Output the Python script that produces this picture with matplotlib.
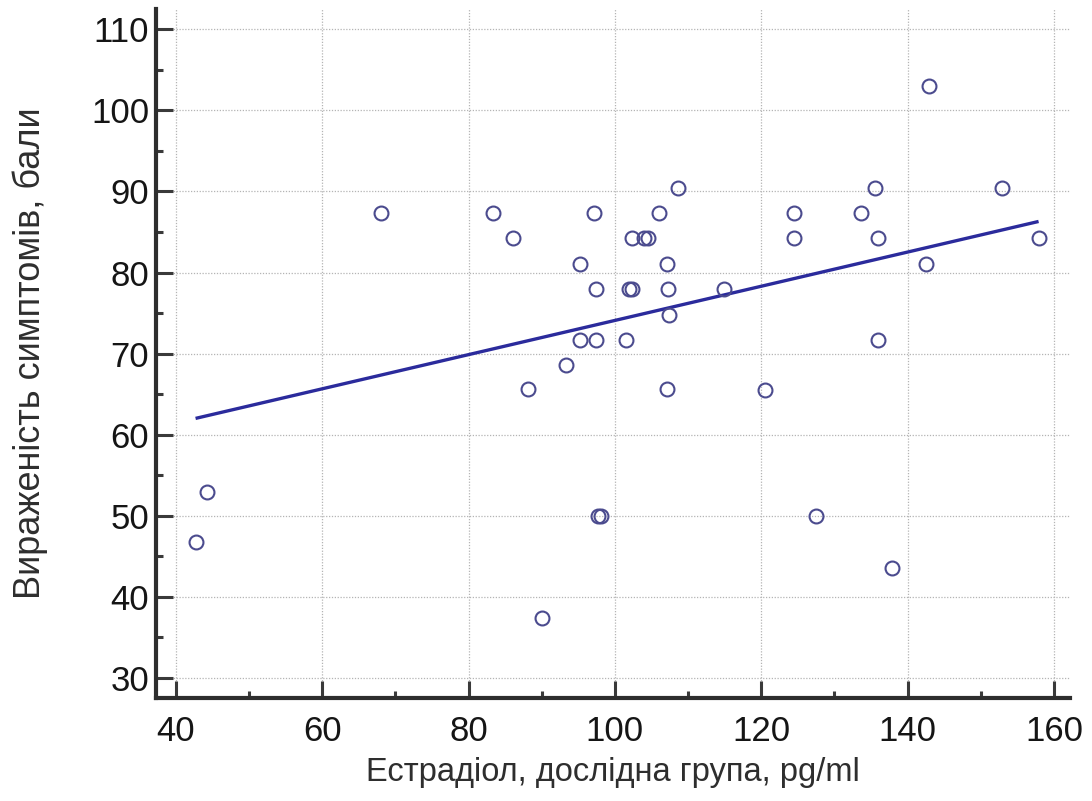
import numpy as np
import matplotlib.pyplot as plt
from matplotlib.ticker import MultipleLocator

# estradiol (pg/ml) vs symptom score
estradiol = [42.7, 44.2, 68.0, 83.3, 86.1, 88.1, 90.0, 93.3, 95.2, 95.2,
             97.1, 97.4, 97.4, 97.7, 98.1, 101.5, 101.9, 102.3, 102.3, 104.0,
             104.5, 106.0, 107.1, 107.2, 107.1, 107.4, 108.6, 114.9, 120.5, 124.5,
             124.5, 127.5, 133.6, 135.5, 135.9, 135.9, 137.9, 142.5, 142.9, 152.9,
             157.9]
symptoms = [46.7, 52.9, 87.4, 87.4, 84.2, 65.6, 37.4, 68.6, 81.1, 71.7,
            87.4, 78.0, 71.7, 49.9, 49.9, 71.7, 78.0, 78.0, 84.2, 84.2,
            84.2, 87.4, 81.1, 78.0, 65.6, 74.8, 90.4, 78.0, 65.5, 87.4,
            84.2, 49.9, 87.4, 90.4, 84.2, 71.7, 43.5, 81.1, 103.0, 90.4,
            84.2]

# regression line end points
fit_x = [42.7, 157.9]
fit_y = [62.0, 86.3]

x_label = 'Естрадіол, дослідна група, pg/ml'
y_label = 'Вираженість симптомів, бали'

plt.rcParams['font.family'] = ['Liberation Sans', 'DejaVu Sans']

fig = plt.figure(figsize=(10.92, 8.01), dpi=100)
ax = fig.add_axes([0.1429, 0.1286, 0.837, 0.860])

ax.grid(True, which='major', color='#b4b4b4', linestyle=(0, (1, 1.3)), linewidth=0.9)
ax.set_axisbelow(True)

ax.plot(fit_x, fit_y, color='#2b2b9c', linewidth=2.4, solid_capstyle='butt', zorder=3)
ax.plot(estradiol, symptoms, linestyle='none', marker='o', markersize=10,
        markerfacecolor='none', markeredgecolor='#4b4b8e', markeredgewidth=1.5, zorder=4)

ax.set_xlim(37.3, 162.2)
ax.set_ylim(27.5, 112.5)
ax.xaxis.set_major_locator(MultipleLocator(20))
ax.xaxis.set_minor_locator(MultipleLocator(10))
ax.yaxis.set_major_locator(MultipleLocator(10))
ax.yaxis.set_minor_locator(MultipleLocator(5))

for side in ['top', 'right']:
    ax.spines[side].set_visible(False)
for side in ['left', 'bottom']:
    ax.spines[side].set_linewidth(3)
    ax.spines[side].set_color('#2e2e2e')

ax.tick_params(which='major', direction='in', length=12, width=2.2, color='#3a3a3a',
               labelsize=25, labelcolor='#151515')
ax.tick_params(axis='y', which='major', pad=5)
ax.tick_params(axis='x', which='major', pad=12)
ax.tick_params(which='minor', direction='in', length=5, width=2.2, color='#3a3a3a')

ax.set_xlabel(x_label, fontsize=23.5, color='#2e2e2e', labelpad=7)
ax.set_ylabel(y_label, fontsize=26, color='#2e2e2e', labelpad=31)

fig.savefig('out.png', dpi=100)
